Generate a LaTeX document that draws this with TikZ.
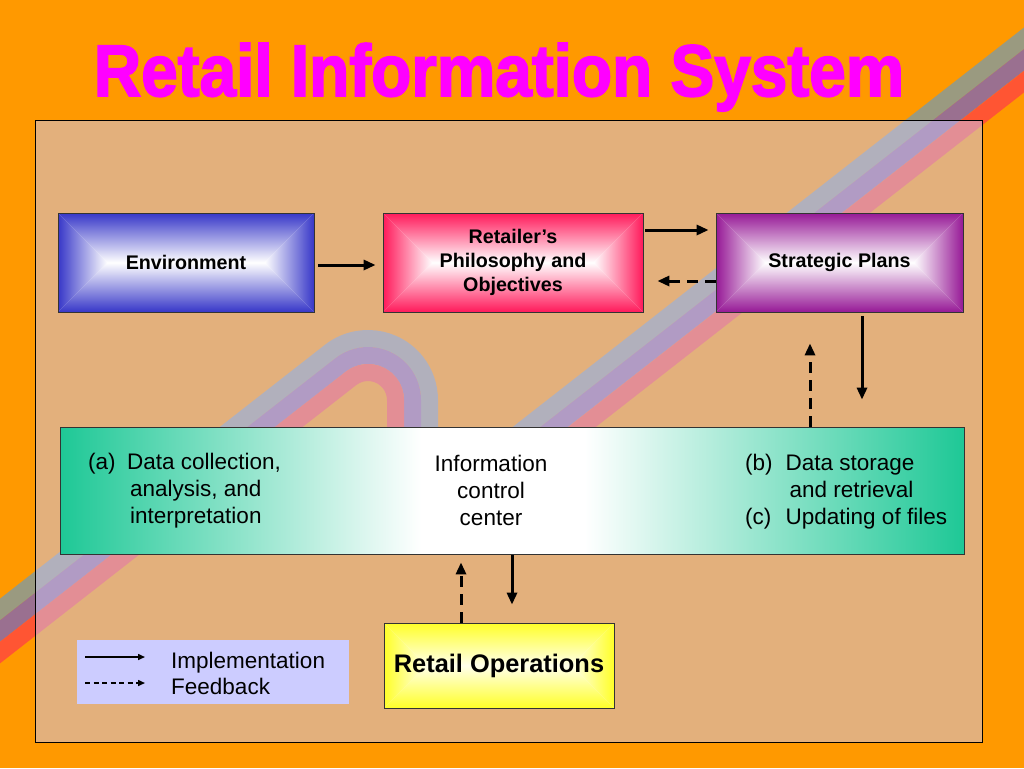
\documentclass[tikz,border=0pt]{standalone}
\usepackage{fontspec}
\setmainfont{Liberation Sans}
\newfontfamily\titlefont[BoldFeatures={FakeBold=2.5}]{Liberation Sans}
\usetikzlibrary{arrows.meta,calc}
\definecolor{bgorange}{RGB}{255,153,0}
\definecolor{panelfill}{RGB}{201,199,248}
\definecolor{titlemagenta}{RGB}{255,0,255}
\definecolor{stripegray}{RGB}{154,154,128}
\definecolor{stripepurple}{RGB}{154,112,144}
\definecolor{stripered}{RGB}{255,85,51}
\definecolor{envblue}{RGB}{55,55,200}
\definecolor{philred}{RGB}{255,25,90}
\definecolor{stratpurple}{RGB}{150,25,150}
\definecolor{opsyellow}{RGB}{255,255,40}
\definecolor{iccgreen}{RGB}{30,200,150}
\definecolor{legendblue}{RGB}{204,204,255}
\pgfdeclarehorizontalshading{iccshade}{100bp}{color(0bp)=(iccgreen); color(25bp)=(iccgreen); color(45bp)=(white); color(54bp)=(white); color(75bp)=(iccgreen); color(100bp)=(iccgreen)}
\begin{document}
\begin{tikzpicture}[line join=miter, >={Triangle[length=12pt,width=10pt]}, x=1pt, y=-1pt]
	\tikzset{
		box/.style={draw=black!80, line width=0.8pt, inner sep=0pt, align=center, font=\fontsize{19.7}{23.6}\selectfont\bfseries},
		glow/.style 2 args={box, fill=#2, path picture={
			\coordinate (gnw) at (path picture bounding box.north west);
			\coordinate (gne) at (path picture bounding box.north east);
			\coordinate (gsw) at (path picture bounding box.south west);
			\coordinate (gse) at (path picture bounding box.south east);
			\coordinate (gw) at ($(gnw)!0.5!(gsw)$);
			\coordinate (ge) at ($(gne)!0.5!(gse)$);
			\coordinate (gl) at ($(gw)!1!-90:(gnw)$);
			\coordinate (gr) at ($(ge)!1!90:(gne)$);
			\shade[top color=#1, bottom color=#2] (gnw) -- (gne) -- (gr) -- (gl) -- cycle;
			\shade[top color=#2, bottom color=#1] (gsw) -- (gse) -- (gr) -- (gl) -- cycle;
			\shade[left color=#1, right color=#2] (gnw) -- (gl) -- (gsw) -- cycle;
			\shade[left color=#2, right color=#1] (gne) -- (gr) -- (gse) -- cycle;
		}},
		impl/.style={->, line width=3pt},
		feed/.style={->, line width=3pt, dash pattern=on 11pt off 7pt},
		band/.style={line width=17pt}
	}
	\useasboundingbox (0,0) rectangle (1024,768);
	\fill[bgorange] (0,0) rectangle (1024,768);
	\node[text=titlemagenta, anchor=base, font=\titlefont\bfseries\fontsize{73}{80}\selectfont] (title) at (499,96) {\scalebox{0.9}[1]{Retail Information System}};
	\coordinate (hook) at (368,400);
	\draw[band, stripegray] ($(hook)+(-128:61.5)+(142:480)$) -- ++(-38:480) arc[start angle=-128, end angle=0, radius=61.5] -- ++(0,70);
	\draw[band, stripepurple] ($(hook)+(-128:44.5)+(142:490)$) -- ++(-38:490) arc[start angle=-128, end angle=0, radius=44.5] -- ++(0,70);
	\draw[band, stripered] ($(hook)+(-128:27.5)+(142:500)$) -- ++(-38:500) arc[start angle=-128, end angle=0, radius=27.5] -- ++(0,70);
	\draw[band, stripegray] (625,350) ++(142:180) -- ++(-38:800);
	\draw[band, stripepurple] (636,363) ++(142:180) -- ++(-38:800);
	\draw[band, stripered] (646,377) ++(142:180) -- ++(-38:800);
	\draw[fill=panelfill, fill opacity=0.5, line width=1pt] (35,120) rectangle (982,742);
	\node[glow={envblue}{white}, minimum width=256pt, minimum height=99pt] (env) at (186,262.5) {Environment};
	\node[glow={philred}{white}, minimum width=260pt, minimum height=99pt] (phil) at (513,262.5) {Retailer’s\\Philosophy and\\Objectives};
	\node[glow={stratpurple}{white}, minimum width=247pt, minimum height=99pt] (strat) at (839.5,262.5) {Strategic Plans};
	\node[draw=black!80, line width=0.8pt, shading=iccshade, minimum width=904pt, minimum height=127pt] (icc) at (512,490.5) {};
	\node[glow={opsyellow}{yellow!8}, minimum width=230pt, minimum height=85pt, font=\fontsize{25.4}{30}\selectfont\bfseries] (ops) at (499,665.5) {Retail Operations};
	\node[anchor=west, inner sep=0pt, font=\fontsize{22.5}{27}\selectfont] (icca) at (88,491.5) {\begin{tabular}{@{}l@{\hspace{11.5pt}}l@{}}(a) & Data collection,\\ & \hspace{3pt}analysis, and\\ & \hspace{3pt}interpretation\end{tabular}};
	\node[inner sep=0pt, align=center, font=\fontsize{22.5}{27}\selectfont] (iccc) at (491,490) {Information\\control\\center};
	\node[anchor=west, inner sep=0pt, font=\fontsize{22.5}{27}\selectfont] (iccb) at (745,492.5) {\begin{tabular}{@{}l@{\hspace{13pt}}l@{}}(b) & Data storage\\ & \hspace{4pt}and retrieval\\ (c) & Updating of files\end{tabular}};
	\draw[impl, shorten <=4pt, shorten >=7pt] ([yshift=-2.5pt]env.east) -- ([yshift=-2.5pt]phil.west);
	\draw[impl, shorten <=2pt, shorten >=7pt] ([yshift=32.5pt]phil.east) -- ([yshift=32.5pt]strat.west);
	\draw[feed, shorten >=14pt] ([yshift=-18.5pt]strat.west) -- ([yshift=-18.5pt]phil.east);
	\coordinate (sd) at ([xshift=22.5pt]strat.south);
	\coordinate (su) at ([xshift=-29.5pt]strat.south);
	\draw[impl, shorten <=4pt, shorten >=27pt] (sd) -- (sd |- icc.north);
	\draw[feed, shorten >=31pt] (su |- icc.north) -- (su);
	\coordinate (od) at ([xshift=13pt]ops.north);
	\coordinate (ou) at ([xshift=-38pt]ops.north);
	\draw[impl, shorten <=1pt, shorten >=18pt] (od |- icc.south) -- (od);
	\draw[feed, shorten >=8pt] (ou) -- (ou |- icc.south);
	\node[fill=legendblue, minimum width=272pt, minimum height=64pt, inner sep=0pt] (legend) at (213,672) {};
	\coordinate (li0) at (85,657);
	\coordinate (li1) at (145,657);
	\coordinate (lf0) at (85,683);
	\coordinate (lf1) at (145,683);
	\draw[->, >={Triangle[length=7pt,width=6pt]}, line width=1.5pt] (li0) -- (li1);
	\draw[->, >={Triangle[length=7pt,width=6pt]}, line width=1.5pt, dash pattern=on 5pt off 3.5pt] (lf0) -- (lf1);
	\node[anchor=west, inner sep=0pt, align=left, font=\fontsize{22.5}{26}\selectfont] (legtext) at (171,673) {Implementation\\Feedback};
\end{tikzpicture}
\end{document}
